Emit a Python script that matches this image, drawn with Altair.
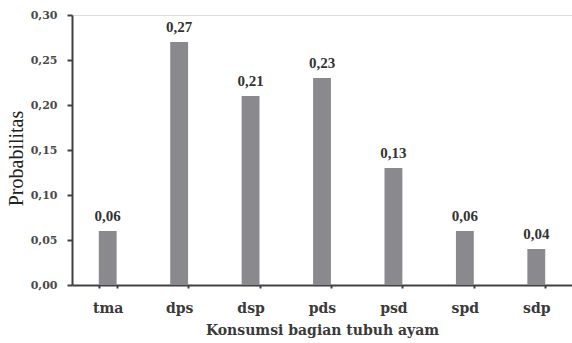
import altair as alt
import pandas as pd

categories = ["tma", "dps", "dsp", "pds", "psd", "spd", "sdp"]
probabilities = [0.06, 0.27, 0.21, 0.23, 0.13, 0.06, 0.04]

df = pd.DataFrame({"bagian": categories, "prob": probabilities})
df["label"] = [f"{v:.2f}".replace(".", ",") for v in probabilities]

FONT = "DejaVu Serif"

x_enc = alt.X(
    "bagian:N",
    sort=categories,
    scale=alt.Scale(paddingInner=0.75, paddingOuter=0.375),
    axis=alt.Axis(
        title="Konsumsi bagian tubuh ayam",
        titleFont=FONT,
        titleFontSize=14,
        titleFontWeight="bold",
        titleColor="#3a3a3a",
        titlePadding=8,
        labelFont=FONT,
        labelFontSize=14,
        labelFontWeight="bold",
        labelColor="#3a3a3a",
        labelAngle=0,
        labelPadding=13,
        tickBand="extent",
        tickSize=3,
        tickColor="#404040",
        tickWidth=2,
        domainColor="#404040",
        domainWidth=2,
    ),
)

y_enc = alt.Y(
    "prob:Q",
    scale=alt.Scale(domain=[0, 0.30], nice=False),
    axis=alt.Axis(
        title="Probabilitas",
        titleFont="Liberation Serif",
        titleFontSize=20,
        titleFontWeight="normal",
        titleColor="#222222",
        titleX=-56,
        titleY=143,
        titleAlign="center",
        titleBaseline="middle",
        values=[0, 0.05, 0.10, 0.15, 0.20, 0.25, 0.30],
        labelExpr="replace(format(datum.value, '.2f'), '.', ',')",
        labelFont=FONT,
        labelFontSize=11,
        labelFontWeight="bold",
        labelColor="#4a4a4a",
        labelPadding=10,
        tickSize=5,
        tickColor="#404040",
        tickWidth=2,
        domainColor="#404040",
        domainWidth=2,
        grid=False,
    ),
)

bars = alt.Chart(df).mark_bar(color="#8a8a8e").encode(x=x_enc, y=y_enc)

labels = alt.Chart(df).mark_text(
    font="Liberation Serif",
    fontSize=15,
    fontWeight="bold",
    color="#333333",
    baseline="bottom",
    dy=-7,
).encode(x=alt.X("bagian:N", sort=categories), y="prob:Q", text="label:N")

chart = (
    (bars + labels)
    .properties(
        width=500,
        height=270,
        padding={"left": 72, "top": 15, "right": 0, "bottom": 58},
        autosize=alt.AutoSizeParams(type="none"),
    )
    .configure_view(stroke=None)
    .configure(background="white")
)

chart.save("out.html", embed_options={"renderer": "svg", "actions": False})
